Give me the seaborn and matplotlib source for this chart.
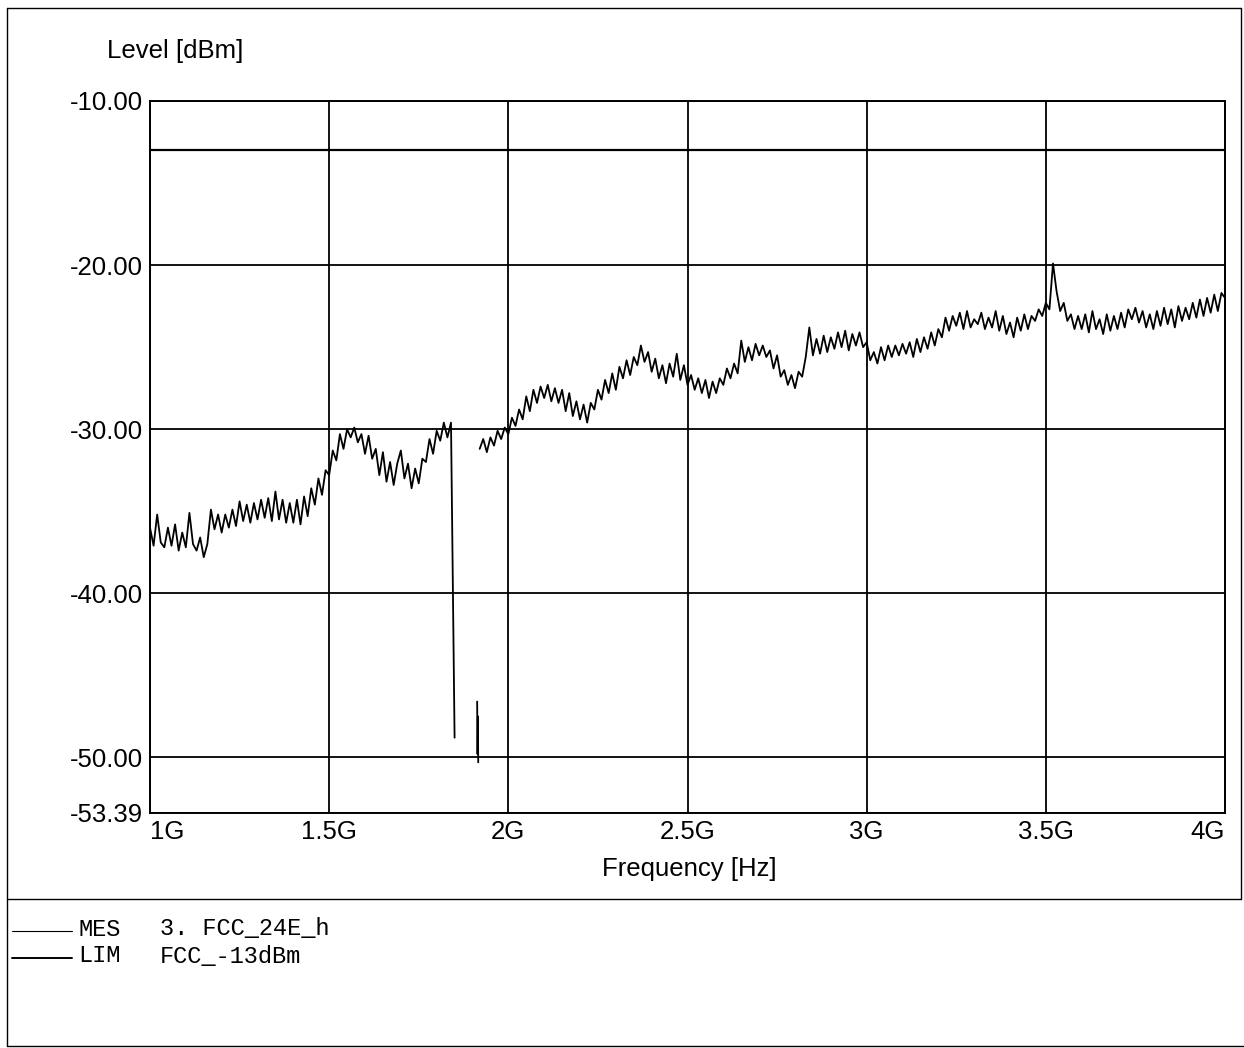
import numpy as np
import pandas as pd
import matplotlib
matplotlib.use("Agg")
import matplotlib.pyplot as plt
import seaborn as sns
from matplotlib.lines import Line2D

# Sweep 1 GHz .. 4 GHz, one reading per 10 MHz
sweep_start = 1.0
sweep_step = 0.01

level_dbm = [
    -36.0, -37.1, -35.2, -36.9, -37.2, -36.0, -37.1, -35.8, -37.4, -36.3,
    -37.2, -35.1, -37.0, -37.4, -36.6, -37.8, -37.0, -34.9, -36.1, -35.2,
    -36.3, -35.2, -36.0, -34.9, -35.9, -34.4, -35.6, -34.6, -35.7, -34.5,
    -35.5, -34.3, -35.4, -34.2, -35.6, -33.8, -35.5, -34.3, -35.7, -34.5,
    -35.7, -34.3, -35.8, -34.1, -35.3, -33.6, -34.6, -33.0, -34.0, -32.5,
    -32.8, -31.3, -31.9, -30.3, -31.2, -30.0, -30.5, -29.9, -30.8, -30.3,
    -31.5, -30.4, -31.8, -31.2, -32.8, -31.4, -33.2, -32.0, -33.4, -32.1,
    -31.3, -33.0, -32.1, -33.6, -32.4, -33.3, -31.8, -32.0, -30.6, -31.5,
    -30.1, -30.7, -29.6, -30.5, -29.6, -48.8, np.nan, np.nan, np.nan, np.nan,
    np.nan, np.nan, -31.2, -30.6, -31.4, -30.5, -31.0, -30.1, -30.6, -29.9,
    -30.3, -29.3, -29.8, -28.8, -29.4, -28.0, -28.9, -27.6, -28.4, -27.4,
    -28.1, -27.3, -28.3, -27.5, -28.4, -27.6, -28.9, -27.8, -29.2, -28.3,
    -29.4, -28.5, -29.6, -28.4, -28.8, -27.6, -28.2, -27.0, -27.8, -26.6,
    -27.6, -26.2, -26.9, -25.8, -26.7, -25.6, -26.1, -24.9, -25.9, -25.3,
    -26.5, -25.7, -26.9, -26.1, -27.2, -26.0, -26.8, -25.4, -27.0, -26.1,
    -27.3, -26.7, -27.6, -26.9, -27.8, -27.0, -28.1, -27.1, -27.8, -26.9,
    -27.3, -26.3, -26.9, -26.0, -26.6, -24.6, -25.9, -25.0, -25.8, -24.8,
    -25.5, -24.9, -25.6, -25.2, -26.3, -25.5, -26.8, -26.4, -27.3, -26.7,
    -27.5, -26.5, -26.8, -25.6, -23.8, -25.5, -24.5, -25.4, -24.3, -25.3,
    -24.4, -25.1, -24.1, -25.0, -24.0, -25.2, -24.2, -24.9, -24.1, -25.0,
    -24.7, -25.8, -25.3, -26.0, -25.0, -25.8, -24.9, -25.6, -24.9, -25.5,
    -24.8, -25.4, -24.7, -25.6, -24.5, -25.3, -24.4, -25.1, -24.1, -24.9,
    -23.9, -24.4, -23.2, -24.0, -23.1, -23.7, -22.9, -23.9, -22.8, -23.8,
    -23.3, -23.6, -22.9, -23.9, -23.2, -23.8, -22.8, -24.0, -23.1, -24.2,
    -23.5, -24.4, -23.2, -24.0, -23.0, -23.9, -23.1, -23.4, -22.7, -23.1,
    -22.3, -22.7, -19.9, -21.6, -22.8, -22.3, -23.4, -23.0, -23.9, -23.1,
    -23.9, -23.0, -24.1, -22.8, -23.9, -23.3, -24.2, -23.0, -24.0, -23.1,
    -23.9, -22.9, -23.8, -22.7, -23.3, -22.6, -23.5, -22.8, -23.8, -23.0,
    -23.9, -22.8, -23.7, -22.6, -23.6, -22.7, -23.8, -22.5, -23.4, -22.6,
    -23.3, -22.3, -23.2, -22.1, -23.1, -22.0, -22.9, -21.8, -22.8, -21.7,
    -22.0,
]

# short burst of readings inside the gap
dip_freq = [1.913, 1.914, 1.915, 1.916]
dip_level = [-46.6, -49.8, -47.5, -50.3]

limit_freq = [1.0, 4.0]
limit_level = [-13.0, -13.0]

y_ticks = [-10.0, -20.0, -30.0, -40.0, -50.0, -53.39]
x_ticks = [1.0, 1.5, 2.0, 2.5, 3.0, 3.5, 4.0]
x_tick_labels = ['1G', '1.5G', '2G', '2.5G', '3G', '3.5G', '4G']

W, H = 1244, 1048


def fx(x):
    return x / W


def fy(y):
    return 1 - y / H


if __name__ == "__main__":
    sns.set_theme(style="white")
    plt.rcParams['font.family'] = ['Liberation Sans', 'DejaVu Sans']
    plt.rcParams['text.color'] = 'black'

    freq = np.round(sweep_start + sweep_step * np.arange(len(level_dbm)), 3)
    trace = pd.DataFrame({'freq': freq, 'level': level_dbm})
    trace['segment'] = trace['level'].isna().cumsum()
    trace = trace.dropna()
    dip = pd.DataFrame({'freq': dip_freq, 'level': dip_level, 'segment': -1})
    trace = pd.concat([trace, dip], ignore_index=True)
    limit = pd.DataFrame({'freq': limit_freq, 'level': limit_level})

    fig = plt.figure(figsize=(W / 100, H / 100), dpi=100)
    ax = fig.add_axes([fx(150), fy(813), fx(1225) - fx(150), fy(101) - fy(813)])

    sns.lineplot(data=trace, x='freq', y='level', units='segment', estimator=None,
                 sort=False, color='black', lw=1.3, legend=False, ax=ax)
    sns.lineplot(data=limit, x='freq', y='level', color='black', lw=1.6,
                 legend=False, ax=ax)

    ax.set_xlim(1.0, 4.0)
    ax.set_ylim(-53.39, -10.0)
    ax.set_xticks(x_ticks)
    ax.set_xticklabels(x_tick_labels)
    ax.set_yticks(y_ticks)
    ax.set_yticklabels(['%.2f' % v for v in y_ticks])
    ax.grid(True, color='black', lw=1.3)
    ax.tick_params(length=0, labelsize=18.5, pad=5, colors='black')
    xl = ax.get_xticklabels()
    xl[0].set_horizontalalignment('left')
    xl[-1].set_horizontalalignment('right')
    ax.set_xlabel('')
    ax.set_ylabel('')
    for s in ax.spines.values():
        s.set_color('black')
        s.set_linewidth(1.4)

    fig.text(fx(107), fy(51), 'Level [dBm]', fontsize=18.5, ha='left', va='center')
    fig.text(fx(689), fy(869), 'Frequency [Hz]', fontsize=18.5, ha='center', va='center')

    # page frame
    frame = [
        ([7, 7], [8, 1046]),
        ([7, 1241], [8, 8]),
        ([1241, 1241], [8, 899]),
        ([7, 1241], [899, 899]),
        ([7, 1244], [1046, 1046]),
    ]
    for xs, ys in frame:
        fig.add_artist(Line2D([fx(v) for v in xs], [fy(v) for v in ys],
                              color='black', lw=1.0))

    # legend block
    rows = [('MES', '3. FCC_24E_h', 0.8, 929), ('LIM', 'FCC_-13dBm', 1.4, 956)]
    for tag, name, lw, yc in rows:
        fig.add_artist(Line2D([fx(12), fx(72)], [fy(yc + 2), fy(yc + 2)],
                              color='black', lw=lw))
        fig.text(fx(78), fy(yc), tag, fontsize=17, family='Liberation Mono',
                 ha='left', va='center')
        fig.text(fx(160), fy(yc), name, fontsize=17, family='Liberation Mono',
                 ha='left', va='center')

    plt.savefig('out.png', dpi=100)
